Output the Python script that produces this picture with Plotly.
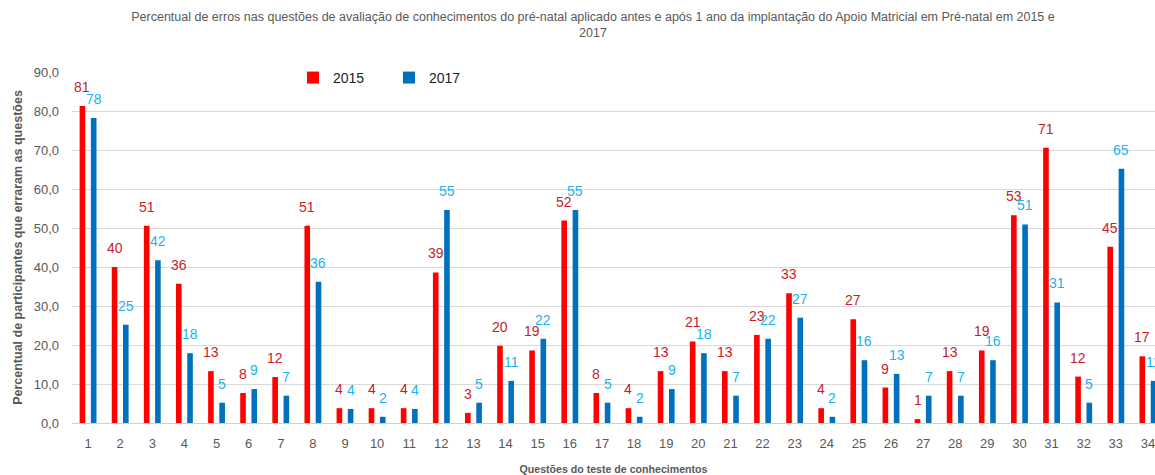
import plotly.graph_objects as go

questions = [str(i) for i in range(1, 35)]
errors_2015 = [81.3, 40.0, 50.6, 35.7, 13.3, 7.7, 11.8, 50.6, 3.8, 3.8,
               3.8, 38.6, 2.6, 19.8, 18.6, 51.9, 7.7, 3.8, 13.3, 20.9,
               13.3, 22.6, 33.3, 3.8, 26.6, 9.1, 1.0, 13.3, 18.6, 53.3,
               70.6, 11.9, 45.2, 17.1]
errors_2017 = [78.2, 25.2, 41.7, 17.9, 5.2, 8.7, 7.0, 36.2, 3.6, 1.6,
               3.6, 54.6, 5.2, 10.8, 21.6, 54.6, 5.2, 1.6, 8.7, 17.9,
               7.0, 21.6, 27.0, 1.6, 16.1, 12.6, 7.0, 7.0, 16.1, 50.9,
               30.9, 5.2, 65.2, 10.8]
y_ticks = [0, 10, 20, 30, 40, 50, 60, 70, 80, 90]
y_tick_labels = ["0,0", "10,0", "20,0", "30,0", "40,0", "50,0", "60,0", "70,0", "80,0", "90,0"]

title_text = ("Percentual de erros nas questões de avaliação de conhecimentos do pré-natal aplicado antes e após "
              "1 ano da implantação do Apoio Matricial em Pré-natal em 2015 e<br>2017")

RED = "#FF0000"
BLUE = "#0070C0"
RED_LBL = "#C41E28"
BLUE_LBL = "#1AB2F0"
GRAY = "#595959"
FONT = "Liberation Sans, Arial, sans-serif"

fig = go.Figure()
fig.add_bar(x=questions, y=errors_2015, name="2015", marker=dict(color=RED, line=dict(width=0)))
fig.add_bar(x=questions, y=errors_2017, name="2017", marker=dict(color=BLUE, line=dict(width=0)))

BARGAP = 0.30
shift = 5.6
for idx, v in enumerate(errors_2015):
    fig.add_annotation(x=idx, y=v, text=f"{v:.0f}", showarrow=False, xshift=-shift, yshift=9,
                       yanchor="bottom", font=dict(family=FONT, size=14, color=RED_LBL))
for idx, v in enumerate(errors_2017):
    fig.add_annotation(x=idx, y=v, text=f"{v:.0f}", showarrow=False, xshift=shift, yshift=9,
                       yanchor="bottom", font=dict(family=FONT, size=14, color=BLUE_LBL))

fig.update_layout(
    width=1155, height=475,
    margin=dict(l=72, r=0, t=72, b=52, autoexpand=False),
    paper_bgcolor="white", plot_bgcolor="white",
    barmode="group", bargap=BARGAP, bargroupgap=0.5,
    font=dict(family=FONT, color=GRAY),
    title=dict(text=title_text, x=593 / 1155, xanchor="center", xref="container",
               y=1 - 21 / 475, yanchor="top", yref="container",
               font=dict(family=FONT, size=12.5, color=GRAY)),
    showlegend=True,
    legend=dict(orientation="h", xref="paper", x=(293 - 72) / 1083, xanchor="left",
                y=0.983, yanchor="middle", entrywidth=51, entrywidthmode="pixels",
                font=dict(family=FONT, size=14, color="#222222"), bgcolor="rgba(0,0,0,0)",
                traceorder="normal"),
    xaxis=dict(type="category", range=[-0.5, 33.22], showgrid=False, showline=False, automargin=False,
               ticks="", tickfont=dict(family=FONT, size=13, color=GRAY), ticklabelstandoff=11,
               title=dict(text="<b>Questões do teste de conhecimentos</b>", standoff=17,
                          font=dict(family=FONT, size=10.6, color=GRAY))),
    yaxis=dict(range=[0, 90], tickvals=y_ticks, ticktext=y_tick_labels, showgrid=True, automargin=False,
               gridcolor="#D9D9D9", gridwidth=1, zeroline=True, zerolinecolor="#D0D0D0",
               zerolinewidth=1, showline=False, ticks="", ticklabelstandoff=12,
               tickfont=dict(family=FONT, size=13, color=GRAY),
               title=dict(text="<b>Percentual de participantes que erraram as questões</b>", standoff=8,
                          font=dict(family=FONT, size=12.5, color=GRAY))),
)

fig.write_html("out.html", config={"displayModeBar": False},
               post_script="document.body.style.margin='0';")
